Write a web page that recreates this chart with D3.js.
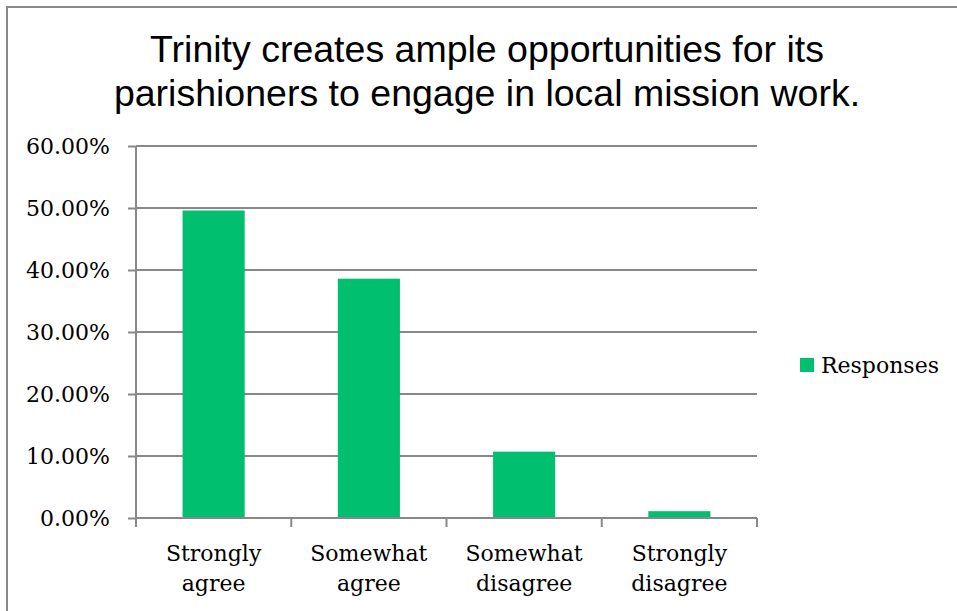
<!DOCTYPE html>
<html>
<head>
<meta charset="utf-8">
<script src="https://cdn.jsdelivr.net/npm/d3@7"></script>
<style>
  body { margin: 0; background: #fff; }
  svg { display: block; }
  .ax text { font-family: "DejaVu Serif", serif; font-size: 22px; fill: #000; }
</style>
</head>
<body>
<svg id="chart"></svg>
<script>
// DATA
var categories = [["Strongly", "agree"], ["Somewhat", "agree"], ["Somewhat", "disagree"], ["Strongly", "disagree"]];
var responses = [0.496, 0.386, 0.107, 0.011];
var yTicks = [0, 0.1, 0.2, 0.3, 0.4, 0.5, 0.6];
var titleLines = ["Trinity creates ample opportunities for its", "parishioners to engage in local mission work."];
var seriesName = "Responses";

// SIZING
var width = 957, height = 611;
var plotLeft = 136, plotRight = 757, plotTop = 146, plotBottom = 518;
var barColor = "#00BF6F", lineColor = "#888888";

var svg = d3.select("#chart").attr("width", width).attr("height", height);

// OUTER FRAME
svg.append("rect")
  .attr("x", 7).attr("y", 7)
  .attr("width", width + 10).attr("height", height + 10)
  .attr("fill", "none")
  .attr("stroke", lineColor)
  .attr("stroke-width", 2);

// TITLE
svg.append("text")
  .attr("text-anchor", "middle")
  .style("font-family", "'Liberation Sans', Arial, sans-serif")
  .style("font-size", "37.5px")
  .selectAll("tspan")
  .data(titleLines)
  .enter()
  .append("tspan")
  .attr("x", 487)
  .attr("y", (d, i) => 62 + i * 44)
  .text(d => d);

var keys = categories.map(d => d.join(" "));

var xScale = d3.scaleBand()
  .domain(keys)
  .range([plotLeft, plotRight])
  .paddingInner(0.6)
  .paddingOuter(0.3);

var yScale = d3.scaleLinear()
  .domain([0, 0.6])
  .range([plotBottom, plotTop]);

// GRIDLINES
svg.append("g")
  .selectAll("line")
  .data(yTicks)
  .enter()
  .append("line")
  .attr("x1", plotLeft).attr("x2", plotRight)
  .attr("y1", d => yScale(d)).attr("y2", d => yScale(d))
  .attr("stroke", lineColor)
  .attr("stroke-width", 2);

// Y AXIS
var yAxis = svg.append("g")
  .attr("class", "ax")
  .attr("transform", "translate(" + plotLeft + ",0)")
  .call(d3.axisLeft(yScale)
    .tickValues(yTicks)
    .tickFormat(d3.format(".2%"))
    .tickSize(8)
    .tickPadding(18));
yAxis.selectAll("line, path").attr("stroke", lineColor).attr("stroke-width", 2);
yAxis.select(".domain").attr("d", "M0," + plotTop + "V" + plotBottom);

// BARS
svg.append("g")
  .selectAll("rect")
  .data(responses)
  .enter()
  .append("rect")
  .attr("x", (d, i) => xScale(keys[i]))
  .attr("y", d => yScale(d))
  .attr("width", xScale.bandwidth())
  .attr("height", d => plotBottom - yScale(d))
  .attr("fill", barColor);

// X AXIS (ticks between categories)
var step = xScale.step();
var xAxisG = svg.append("g").attr("class", "ax");
xAxisG.append("line")
  .attr("x1", plotLeft).attr("x2", plotRight)
  .attr("y1", plotBottom).attr("y2", plotBottom)
  .attr("stroke", lineColor).attr("stroke-width", 2);
xAxisG.selectAll(".tk")
  .data(d3.range(keys.length + 1))
  .enter()
  .append("line")
  .attr("class", "tk")
  .attr("x1", i => plotLeft + i * step).attr("x2", i => plotLeft + i * step)
  .attr("y1", plotBottom).attr("y2", plotBottom + 9)
  .attr("stroke", lineColor).attr("stroke-width", 2);

xAxisG.selectAll(".lbl")
  .data(categories)
  .enter()
  .append("text")
  .attr("class", "lbl")
  .attr("text-anchor", "middle")
  .each(function(d, i) {
    var cx = xScale(keys[i]) + xScale.bandwidth() / 2;
    d3.select(this).selectAll("tspan")
      .data(d)
      .enter()
      .append("tspan")
      .attr("x", cx)
      .attr("y", (t, j) => 561 + j * 30)
      .text(t => t);
  });

// LEGEND
var legend = svg.append("g").attr("class", "ax");
legend.append("rect")
  .attr("x", 800).attr("y", 358)
  .attr("width", 14).attr("height", 14)
  .attr("fill", barColor);
legend.append("text")
  .attr("x", 821).attr("y", 373)
  .text(seriesName);
</script>
</body>
</html>
